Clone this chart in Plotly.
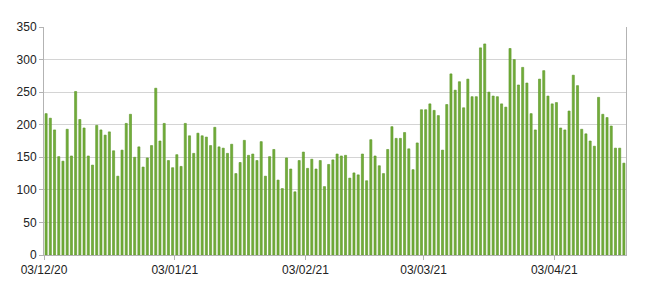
import pandas as pd
import plotly.graph_objects as go

start_date = "2020-12-03"
values = [
    217, 210, 192, 151, 144, 193, 152, 251, 208, 195,
    152, 138, 199, 192, 184, 189, 160, 121, 161, 202,
    216, 150, 166, 135, 149, 168, 256, 175, 202, 145,
    134, 154, 136, 202, 183, 156, 187, 183, 181, 168,
    196, 166, 164, 156, 170, 125, 142, 176, 153, 155,
    145, 174, 121, 151, 162, 115, 102, 149, 132, 97,
    145, 158, 133, 147, 132, 145, 105, 139, 146, 155,
    152, 153, 118, 126, 123, 155, 114, 177, 152, 137,
    125, 162, 197, 179, 179, 188, 163, 131, 172, 223,
    223, 232, 222, 214, 161, 231, 278, 253, 266, 226,
    270, 243, 243, 318, 324, 250, 244, 243, 232, 227,
    317, 300, 261, 288, 264, 217, 192, 270, 283, 244,
    232, 234, 195, 192, 221, 276, 260, 193, 186, 175,
    167, 242, 216, 211, 198, 164, 164, 141,
]
dates = pd.date_range(start_date, periods=len(values), freq="D")

tick_dates = ["2020-12-03", "2021-01-03", "2021-02-03", "2021-03-03", "2021-04-03"]
tick_labels = ["03/12/20", "03/01/21", "03/02/21", "03/03/21", "03/04/21"]
y_ticks = [0, 50, 100, 150, 200, 250, 300, 350]

fig = go.Figure(
    go.Bar(
        x=dates,
        y=values,
        xperiod=86400000,
        xperiodalignment="middle",
        marker=dict(color="#72ad3a", line=dict(color="#5b9527", width=0.6)),
    )
)

x_end = dates[-1] + pd.Timedelta(days=1)
fig.update_layout(
    width=650,
    height=288,
    margin=dict(l=44, r=24, t=27, b=33),
    paper_bgcolor="white",
    plot_bgcolor="white",
    bargap=0.5,
    showlegend=False,
    font=dict(family="Liberation Sans, Arial, sans-serif", size=12, color="#222"),
)
fig.update_xaxes(
    type="date",
    range=[dates[0], x_end],
    tickvals=tick_dates,
    ticktext=tick_labels,
    ticks="outside",
    ticklen=4,
    tickcolor="#b3b3b3",
    showgrid=False,
    showline=True,
    linecolor="#b3b3b3",
    linewidth=1,
    zeroline=False,
)
fig.update_yaxes(
    range=[0, 350],
    tickvals=y_ticks,
    ticks="outside",
    ticklen=4,
    tickcolor="#b3b3b3",
    showgrid=True,
    gridcolor="#d4d4d4",
    gridwidth=1,
    showline=True,
    linecolor="#b3b3b3",
    linewidth=1,
    mirror=True,
    zeroline=False,
)

fig.write_html("out.html")
